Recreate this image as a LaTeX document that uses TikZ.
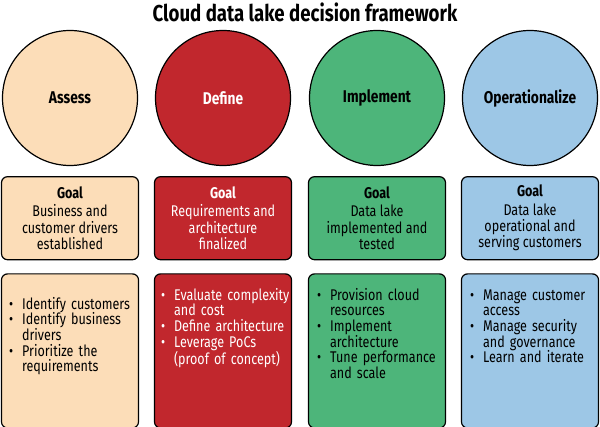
\documentclass[tikz,border=0pt]{standalone}
\usepackage{fontspec}
\setmainfont{Fira Sans}[FakeStretch=0.81]
\usepackage{xcolor}
\usepackage{enumitem}
\usepackage{tikz}
\usetikzlibrary{positioning}

\definecolor{assesscol}{HTML}{FCDDB8}
\definecolor{definecol}{HTML}{C1272D}
\definecolor{implcol}{HTML}{4DB57A}
\definecolor{opercol}{HTML}{9DC7E6}

\tikzset{
    phase/.style={draw, circle, black, line width=1.2pt, minimum size=135pt, inner sep=0pt, font=\fontsize{17}{19}\selectfont\bfseries},
    goalbox/.style={draw, rectangle, rounded corners=6pt, line width=1.2pt, minimum width=137pt, minimum height=83pt, align=center, font=\fontsize{15.5}{16.3}\selectfont},
    taskbox/.style={draw, rectangle, rounded corners=6pt, line width=1.2pt, minimum width=137pt, minimum height=154pt},
    tasklist/.style={inner sep=0pt, text width=150pt, align=left, font=\fontsize{15.5}{15.7}\selectfont}
}
\setlist[itemize]{nosep, leftmargin=15pt, labelsep=9pt, label=\textbullet}

\begin{document}
\begin{tikzpicture}[x=1pt, y=-1pt]
    \useasboundingbox (0,0) rectangle (600,427);

    \node[font=\fontsize{23}{26}\selectfont\bfseries] (title) at (305,12) {Cloud data lake decision framework};

    % phases
    \node[phase, fill=assesscol] (assess) at (70,98) {Assess};
    \node[phase, fill=definecol, text=white] (define) at (223,98) {Define};
    \node[phase, fill=implcol] (implement) at (377,98) {Implement};
    \node[phase, fill=opercol] (operate) at (530,98) {Operationalize};

    % goals
    \node[goalbox, fill=assesscol, below=10pt of assess] (assessgoal) {\textbf{Goal}\\[2pt]Business and\\customer drivers\\established};
    \node[goalbox, fill=definecol, text=white, below=10pt of define] (definegoal) {\textbf{Goal}\\[2pt]Requirements and\\architecture\\finalized};
    \node[goalbox, fill=implcol, below=10pt of implement] (implgoal) {\textbf{Goal}\\[2pt]Data lake\\implemented and\\tested};
    \node[goalbox, fill=opercol, below=10pt of operate] (opergoal) {\textbf{Goal}\\[2pt]Data lake\\operational and\\serving customers};

    % tasks
    \node[taskbox, fill=assesscol, below=13pt of assessgoal] (assesstasks) {};
    \node[taskbox, fill=definecol, below=13pt of definegoal] (definetasks) {};
    \node[taskbox, fill=implcol, below=13pt of implgoal] (impltasks) {};
    \node[taskbox, fill=opercol, below=13pt of opergoal] (opertasks) {};

    \node[tasklist, below right=20pt and 6pt of assesstasks.north west] (assesslist) {
        \begin{itemize}
            \item Identify customers
            \item Identify business\\drivers
            \item Prioritize the\\requirements
        \end{itemize}};
    \node[tasklist, text=white, below right=11pt and 5pt of definetasks.north west] (definelist) {
        \begin{itemize}
            \item Evaluate complexity\\and cost
            \item Define architecture
            \item Leverage PoCs\\(proof of concept)
        \end{itemize}};
    \node[tasklist, below right=11pt and 7pt of impltasks.north west] (impllist) {
        \begin{itemize}
            \item Provision cloud\\resources
            \item Implement\\architecture
            \item Tune performance\\and scale
        \end{itemize}};
    \node[tasklist, below right=11pt and 7pt of opertasks.north west] (operlist) {
        \begin{itemize}
            \item Manage customer\\access
            \item Manage security\\and governance
            \item Learn and iterate
        \end{itemize}};
\end{tikzpicture}
\end{document}
